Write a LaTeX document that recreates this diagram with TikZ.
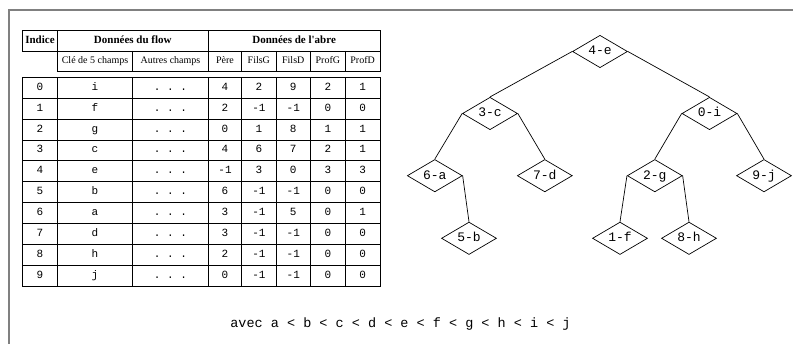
\documentclass[tikz,border=0pt]{standalone}
\usepackage{fontspec}
\setmainfont{Liberation Serif}
\setmonofont{Liberation Mono}
\usetikzlibrary{shapes.geometric}
\begin{document}
\begin{tikzpicture}[x=1pt,y=-1pt,
  tl/.style={line width=0.8pt},
  hd/.style={font=\fontsize{11}{12}\selectfont\bfseries, inner sep=0, text height=7.5pt, text depth=2pt},
  sh/.style={font=\fontsize{10}{11}\selectfont, inner sep=0, text height=7pt, text depth=2pt},
  cell/.style={font=\ttfamily\fontsize{11}{12}\selectfont, inner sep=0, text height=7pt, text depth=2pt},
  tn/.style={diamond, draw, line width=0.7pt, minimum width=55pt, minimum height=28pt, inner sep=0,
    font=\ttfamily\fontsize{13}{14}\selectfont, text height=8pt, text depth=1pt},
  edge/.style={line width=0.7pt},
]
\useasboundingbox (0,0) rectangle (793,344);
\draw[gray, line width=1.2pt] (9,344) -- (9,10) -- (793,10);

% header table
\draw[tl] (22.7,30.7) rectangle (380,51);
\draw[tl] (57.3,51) rectangle (380,71);
\foreach \x in {57.3,208.3} \draw[tl] (\x,30.7) -- (\x,51);
\foreach \x in {132.7,208.3,241.7,276,310.5,345.3} \draw[tl] (\x,51) -- (\x,71);
\node[hd] (hIndice) at (40,40.85) {Indice};
\node[hd] (hFlow) at (132.8,40.85) {Données du flow};
\node[hd] (hArbre) at (294.15,40.85) {Données de l\textquotesingle abre};
\node[sh] (sCle) at (95,61) {Clé de 5 champs};
\node[sh] (sAutres) at (170.5,61) {Autres champs};
\node[sh] (sPere) at (225,61) {Père};
\node[sh] (sFG) at (258.85,61) {FilsG};
\node[sh] (sFD) at (293.25,61) {FilsD};
\node[sh] (sPG) at (327.9,61) {ProfG};
\node[sh] (sPD) at (362.65,61) {ProfD};

% data table
\draw[tl] (22.7,77.3) rectangle (380,286.3);
\foreach \k in {1,...,9} \draw[tl] (22.7,77.3+20.9*\k) -- (380,77.3+20.9*\k);
\foreach \x in {57.3,132.7,208.3,241.7,276,310.5,345.3} \draw[tl] (\x,77.3) -- (\x,286.3);
\foreach \i/\k/\p/\g/\d/\pg/\pd in {0/i/4/2/9/2/1, 1/f/2/-1/-1/0/0, 2/g/0/1/8/1/1, 3/c/4/6/7/2/1,
  4/e/-1/3/0/3/3, 5/b/6/-1/-1/0/0, 6/a/3/-1/5/0/1, 7/d/3/-1/-1/0/0, 8/h/2/-1/-1/0/0, 9/j/0/-1/-1/0/0}{
  \pgfmathsetmacro{\yy}{77.3+20.9*(\i+0.5)}
  \node[cell] (idx\i) at (40,\yy) {\i};
  \node[cell] (key\i) at (95,\yy) {\k};
  \node[cell] (oth\i) at (170.5,\yy) {.~.~.};
  \node[cell] (par\i) at (225,\yy) {\p};
  \node[cell] (fg\i) at (258.85,\yy) {\g};
  \node[cell] (fd\i) at (293.25,\yy) {\d};
  \node[cell] (pg\i) at (327.9,\yy) {\pg};
  \node[cell] (pd\i) at (362.65,\yy) {\pd};
}

% tree
\node[tn] (e4) at (600,51.5) {4-e};
\node[tn] (c3) at (490,113.5) {3-c};
\node[tn] (i0) at (709.5,113.5) {0-i};
\node[tn] (a6) at (434.8,175.7) {6-a};
\node[tn] (d7) at (544.8,175.7) {7-d};
\node[tn] (g2) at (654.8,175.7) {2-g};
\node[tn] (j9) at (764,175.7) {9-j};
\node[tn] (b5) at (469,238.3) {5-b};
\node[tn] (f1) at (620,238.3) {1-f};
\node[tn] (h8) at (689,238.3) {8-h};
\draw[edge] (e4.west) -- (c3.north);
\draw[edge] (e4.east) -- (i0.north);
\draw[edge] (c3.west) -- (a6.north);
\draw[edge] (c3.east) -- (d7.north);
\draw[edge] (i0.west) -- (g2.north);
\draw[edge] (i0.east) -- (j9.north);
\draw[edge] (a6.east) -- (b5.north);
\draw[edge] (g2.west) -- (f1.north);
\draw[edge] (g2.east) -- (h8.north);

\node[font=\ttfamily\fontsize{13.5}{15}\selectfont, inner sep=0] (note) at (400.5,324) {avec a < b < c < d < e < f < g < h < i < j};
\end{tikzpicture}
\end{document}
